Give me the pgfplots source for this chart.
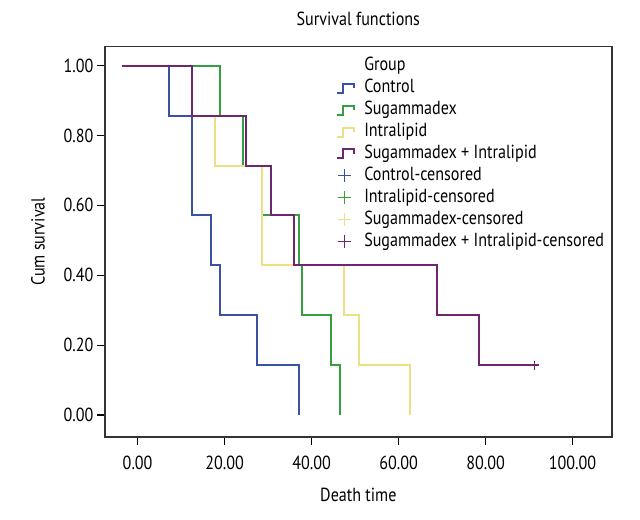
\documentclass[border=0pt]{standalone}
\usepackage{pgfplots}
\pgfplotsset{compat=1.18}
\usepackage{fontspec}
\setmainfont{PT Sans}[FakeStretch=0.85]
\definecolor{cctrl}{RGB}{58,82,165}
\definecolor{csug}{RGB}{52,160,66}
\definecolor{cintra}{RGB}{236,225,130}
\definecolor{cboth}{RGB}{110,38,110}
\begin{document}
\begin{tikzpicture}[font=\fontsize{19}{22}\selectfont]
\begin{axis}[
  scale only axis, width=506.7bp, height=390bp,
  xmin=-7.5, xmax=109, ymin=-0.062, ymax=1.054,
  axis line style={line width=1.6bp, black!80},
  xtick={0,20,40,60,80,100}, ytick={0,0.2,0.4,0.6,0.8,1},
  xtick pos=bottom, ytick pos=left,
  tick align=outside, major tick length=8bp,
  tick style={line width=1.1bp, black},
  xticklabel style={yshift=-8bp},
  /pgf/number format/.cd, fixed, fixed zerofill, precision=2, assume math mode=true, /pgfplots/.cd,
  title={Survival functions},
  title style={at={(axis description cs:0.5,1.0385)}, anchor=base, inner sep=0pt},
  xlabel={Death time},
  xlabel style={at={(axis description cs:0.5,-0.1667)}, anchor=base, inner sep=0pt},
  ylabel={Cum survival},
  ylabel style={at={(axis description cs:-0.1184,0.5)}, anchor=south, inner sep=0pt},
  legend cell align=left,
  legend style={draw=none, fill=none, at={(rel axis cs:0.456,0.972)}, anchor=north west,
    inner sep=0pt, row sep=4.9bp, column sep=9bp,
    nodes={inner sep=0pt, text height=13bp, text depth=4bp}},
  steplegend/.style={legend image code/.code={\draw[##1, line width=2bp] (0bp,-4.5bp) -- (6bp,-4.5bp) -- (6bp,4.5bp) -- (17bp,4.5bp) -- (17bp,0bp);}},
  pluslegend/.style={legend image code/.code={\draw[##1, mark size=6.5bp, line width=1.3bp] plot coordinates {(7.5bp,0bp)};}},
]
\addlegendimage{empty legend}
\addlegendentry{Group}
\addplot[cctrl, line width=2bp, const plot, steplegend] coordinates {(-3.7,1) (7.2,0.857) (12.6,0.571) (16.9,0.429) (18.9,0.286) (27.4,0.143) (37.0,0)};
\addlegendentry{Control}
\addplot[csug, line width=2bp, const plot, steplegend] coordinates {(-3.7,1) (18.9,0.857) (24.3,0.714) (28.6,0.571) (37.0,0.429) (37.9,0.286) (44.4,0.143) (46.5,0)};
\addlegendentry{Sugammadex}
\addplot[cintra, line width=2bp, const plot, steplegend] coordinates {(-3.7,1) (12.6,0.857) (17.9,0.714) (28.5,0.429) (47.5,0.286) (50.9,0.143) (62.6,0)};
\addlegendentry{Intralipid}
\addplot[cboth, line width=2bp, const plot, steplegend] coordinates {(-3.7,1) (12.6,0.857) (25.0,0.714) (30.7,0.571) (36.0,0.429) (68.9,0.286) (78.5,0.143) (91.3,0.143)};
\addlegendentry{Sugammadex + Intralipid}
\addlegendimage{cctrl, only marks, mark=+, pluslegend}
\addlegendentry{Control-censored}
\addlegendimage{csug, only marks, mark=+, pluslegend}
\addlegendentry{Intralipid-censored}
\addlegendimage{cintra, only marks, mark=+, pluslegend}
\addlegendentry{Sugammadex-censored}
\addplot[cboth, only marks, mark=+, mark size=4.5bp, line width=1.4bp, pluslegend] coordinates {(91.3,0.143)};
\addlegendentry{Sugammadex + Intralipid-censored}
\end{axis}
\path ([shift={(-105bp,-83.3bp)}]current axis.south west) rectangle ([shift={(28.3bp,46.7bp)}]current axis.north east);
\end{tikzpicture}
\end{document}
